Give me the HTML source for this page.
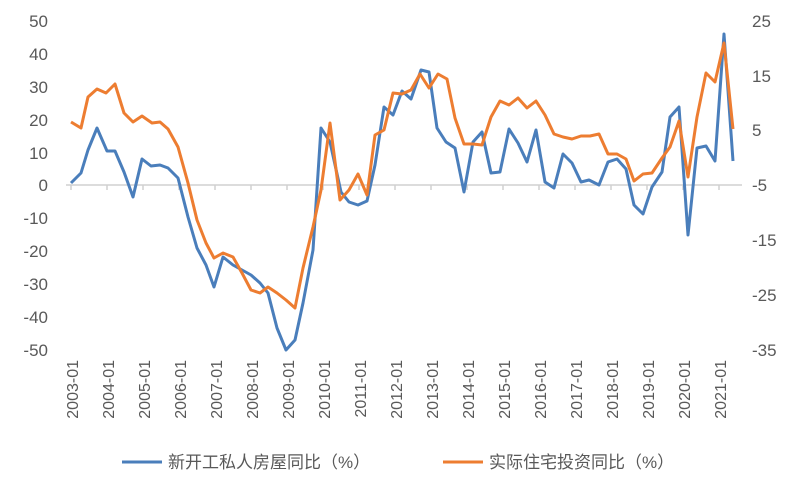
<!DOCTYPE html>
<html><head><meta charset="utf-8"><style>
body{margin:0;background:#fff}
svg text{font-family:"Liberation Sans","Noto Sans CJK SC",sans-serif;fill:#595959}
</style></head><body>
<svg width="802" height="489" xmlns="http://www.w3.org/2000/svg">
<g font-size="17" text-anchor="end">
<text x="48" y="27">50</text><text x="48" y="60">40</text><text x="48" y="93">30</text><text x="48" y="126">20</text><text x="48" y="159">10</text><text x="48" y="191">0</text><text x="48" y="224">-10</text><text x="48" y="257">-20</text><text x="48" y="290">-30</text><text x="48" y="323">-40</text><text x="48" y="356">-50</text>
</g>
<g font-size="17" text-anchor="start">
<text x="752" y="27">25</text><text x="752" y="82">15</text><text x="752" y="136">5</text><text x="752" y="191">-5</text><text x="752" y="246">-15</text><text x="752" y="301">-25</text><text x="752" y="356">-35</text>
</g>
<line x1="66" y1="185" x2="742" y2="185" stroke="#d0d0d0" stroke-width="1.5"/>
<g stroke="#d0d0d0" stroke-width="1.5">
<line x1="71" y1="185" x2="71" y2="190"/><line x1="107" y1="185" x2="107" y2="190"/><line x1="143" y1="185" x2="143" y2="190"/><line x1="179" y1="185" x2="179" y2="190"/><line x1="215" y1="185" x2="215" y2="190"/><line x1="251" y1="185" x2="251" y2="190"/><line x1="287" y1="185" x2="287" y2="190"/><line x1="323" y1="185" x2="323" y2="190"/><line x1="359" y1="185" x2="359" y2="190"/><line x1="395" y1="185" x2="395" y2="190"/><line x1="431" y1="185" x2="431" y2="190"/><line x1="467" y1="185" x2="467" y2="190"/><line x1="503" y1="185" x2="503" y2="190"/><line x1="539" y1="185" x2="539" y2="190"/><line x1="575" y1="185" x2="575" y2="190"/><line x1="611" y1="185" x2="611" y2="190"/><line x1="647" y1="185" x2="647" y2="190"/><line x1="683" y1="185" x2="683" y2="190"/><line x1="719" y1="185" x2="719" y2="190"/>
</g>
<g font-size="16" text-anchor="end">
<text transform="translate(78,360) rotate(-90)">2003-01</text>
<text transform="translate(114,360) rotate(-90)">2004-01</text>
<text transform="translate(150,360) rotate(-90)">2005-01</text>
<text transform="translate(186,360) rotate(-90)">2006-01</text>
<text transform="translate(222,360) rotate(-90)">2007-01</text>
<text transform="translate(258,360) rotate(-90)">2008-01</text>
<text transform="translate(294,360) rotate(-90)">2009-01</text>
<text transform="translate(330,360) rotate(-90)">2010-01</text>
<text transform="translate(366,360) rotate(-90)">2011-01</text>
<text transform="translate(402,360) rotate(-90)">2012-01</text>
<text transform="translate(438,360) rotate(-90)">2013-01</text>
<text transform="translate(474,360) rotate(-90)">2014-01</text>
<text transform="translate(510,360) rotate(-90)">2015-01</text>
<text transform="translate(546,360) rotate(-90)">2016-01</text>
<text transform="translate(582,360) rotate(-90)">2017-01</text>
<text transform="translate(618,360) rotate(-90)">2018-01</text>
<text transform="translate(654,360) rotate(-90)">2019-01</text>
<text transform="translate(690,360) rotate(-90)">2020-01</text>
<text transform="translate(726,360) rotate(-90)">2021-01</text>
</g>
<polyline fill="none" stroke="#4a7ebb" stroke-width="3" stroke-linejoin="round" points="71,183 81,173 88,150 97,128 107,151 115,151 124,172 133,197 142,159 151,166 160,165 168,168 178,178 188,217 197,248 206,265 214,287 223,257 233,265 242,270 251,275 260,283 268,293 277,328 286,350 295,340 303,303 313,250 321,128 330,142 341,192 349,202 358,205 367,201 375,165 384,107 393,115 402,91 411,99 421,70 429,72 437,128 446,142 455,148 464,192 473,142 482,132 491,173 500,172 509,129 518,143 527,162 536,130 545,182 554,188 563,154 572,163 581,182 589,180 599,185 608,162 617,159 626,169 634,205 643,214 652,187 662,172 670,117 679,107 688,235 697,148 706,146 715,161 724,34 733,161"/>
<polyline fill="none" stroke="#ed7d31" stroke-width="3" stroke-linejoin="round" points="71,122 81,128 88,97 97,89 106,93 115,84 124,113 133,122 142,116 152,123 160,122 168,129 178,147 188,183 197,220 206,243 214,258 223,253 233,257 242,273 251,290 260,293 268,287 277,293 286,300 295,308 303,268 313,227 321,190 330,123 340,200 349,190 358,174 367,195 375,135 384,130 393,93 402,94 411,90 420,74 429,88 438,74 447,79 455,118 464,144 473,144 482,145 491,117 500,101 509,105 518,98 527,108 536,101 545,115 554,134 563,137 572,139 581,136 590,136 599,134 608,154 617,154 626,159 634,181 643,174 652,173 662,158 670,147 679,121 688,177 697,117 706,73 715,82 724,43 733,129"/>
<line x1="122" y1="462" x2="162" y2="462" stroke="#4a7ebb" stroke-width="3"/>
<text x="168" y="468" font-size="17">新开工私人房屋同比（%）</text>
<line x1="443" y1="462" x2="483" y2="462" stroke="#ed7d31" stroke-width="3"/>
<text x="489" y="468" font-size="17">实际住宅投资同比（%）</text>
</svg>
</body></html>
